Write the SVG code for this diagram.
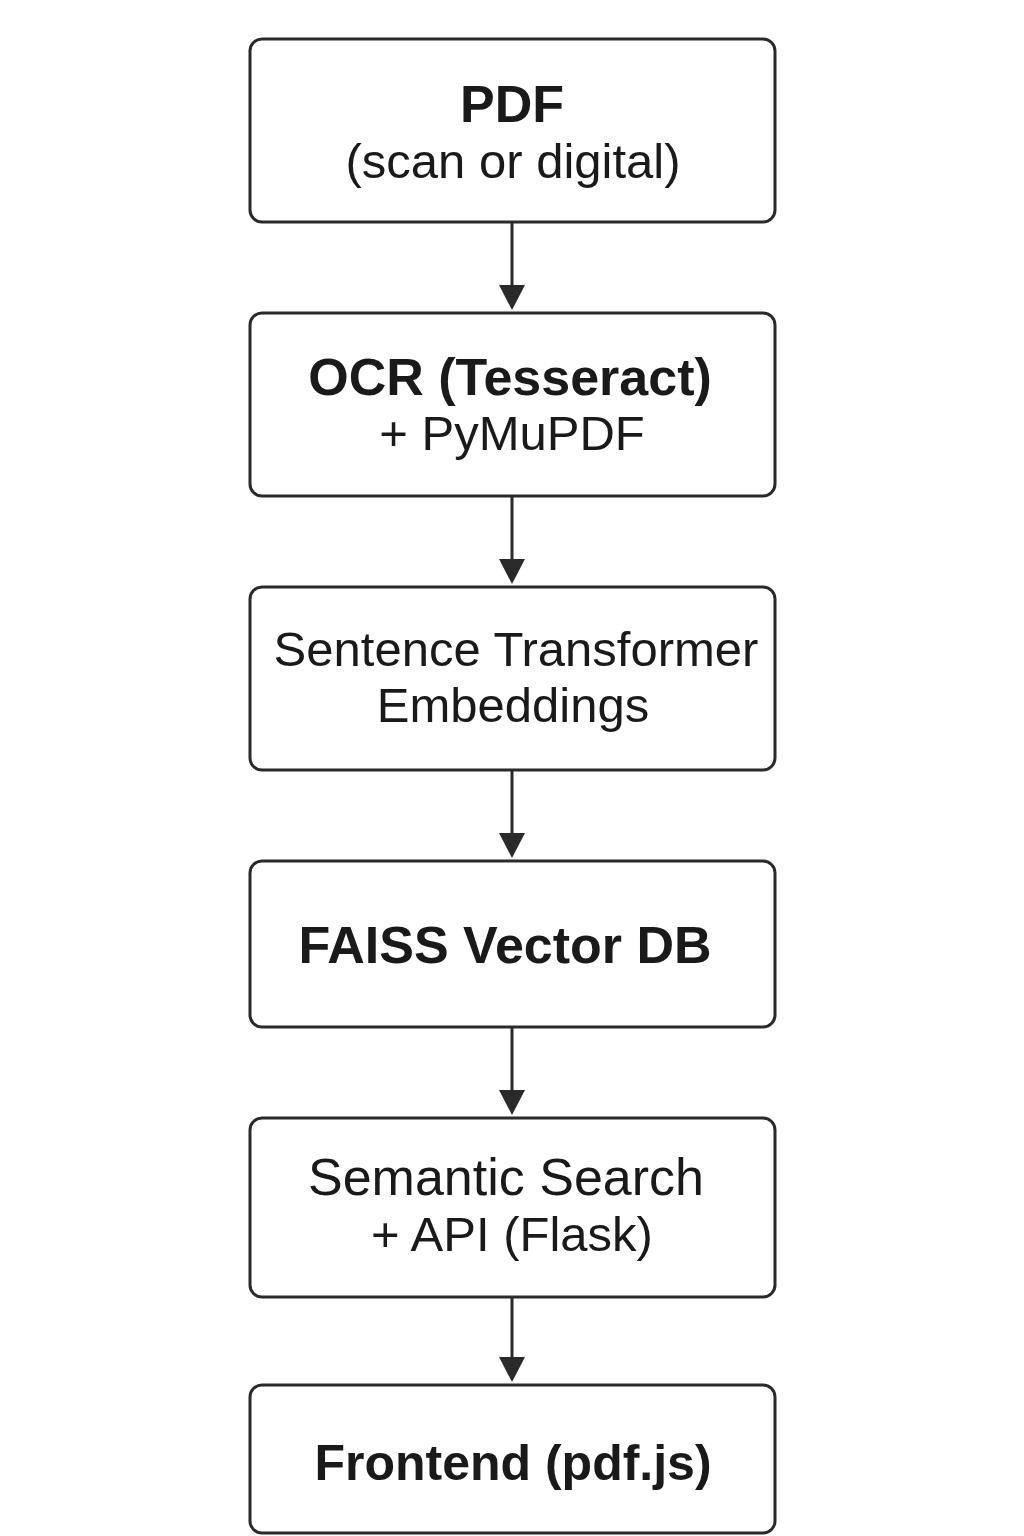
<svg xmlns="http://www.w3.org/2000/svg" width="1024" height="1536" viewBox="0 0 1024 1536">
<defs>
<style>
.box{fill:#fff;stroke:#2a2a2a;stroke-width:3}
.t{font-family:"Liberation Sans",Arial,sans-serif;fill:#1a1a1a;text-anchor:middle}
.b{font-weight:bold;font-size:52px}
.r{font-size:49px}
.con{stroke:#2a2a2a;stroke-width:3;fill:none}
.head{fill:#2a2a2a}
</style>
</defs>
<rect width="1024" height="1536" fill="#fff"/>
<g id="connectors">
<line class="con" x1="512" y1="222" x2="512" y2="288"/><polygon class="head" points="499,285 525,285 512,310"/>
<line class="con" x1="512" y1="496" x2="512" y2="562"/><polygon class="head" points="499,559 525,559 512,584"/>
<line class="con" x1="512" y1="770" x2="512" y2="836"/><polygon class="head" points="499,833 525,833 512,858"/>
<line class="con" x1="512" y1="1027" x2="512" y2="1093"/><polygon class="head" points="499,1090 525,1090 512,1115"/>
<line class="con" x1="512" y1="1297" x2="512" y2="1360"/><polygon class="head" points="499,1357 525,1357 512,1382"/>
</g>
<g id="node-pdf">
<rect class="box" x="250" y="39" width="525" height="183" rx="12"/>
<text class="t b" x="512" y="122">PDF</text>
<text class="t r" x="513" y="178">(scan or digital)</text>
</g>
<g id="node-ocr">
<rect class="box" x="250" y="313" width="525" height="183" rx="12"/>
<text class="t b" x="510" y="395">OCR (Tesseract)</text>
<text class="t r" x="512" y="450">+ PyMuPDF</text>
</g>
<g id="node-embed">
<rect class="box" x="250" y="587" width="525" height="183" rx="12"/>
<text class="t r" x="516" y="666">Sentence Transformer</text>
<text class="t r" x="513" y="722">Embeddings</text>
</g>
<g id="node-faiss">
<rect class="box" x="250" y="861" width="525" height="166" rx="12"/>
<text class="t b" x="505" y="963">FAISS Vector DB</text>
</g>
<g id="node-search">
<rect class="box" x="250" y="1118" width="525" height="179" rx="12"/>
<text class="t r" x="506" y="1195" style="font-size:52px">Semantic Search</text>
<text class="t r" x="512" y="1251">+ API (Flask)</text>
</g>
<g id="node-frontend">
<rect class="box" x="250" y="1385" width="525" height="148" rx="12"/>
<text class="t b" x="513" y="1480" style="font-size:50px">Frontend (pdf.js)</text>
</g>
</svg>
